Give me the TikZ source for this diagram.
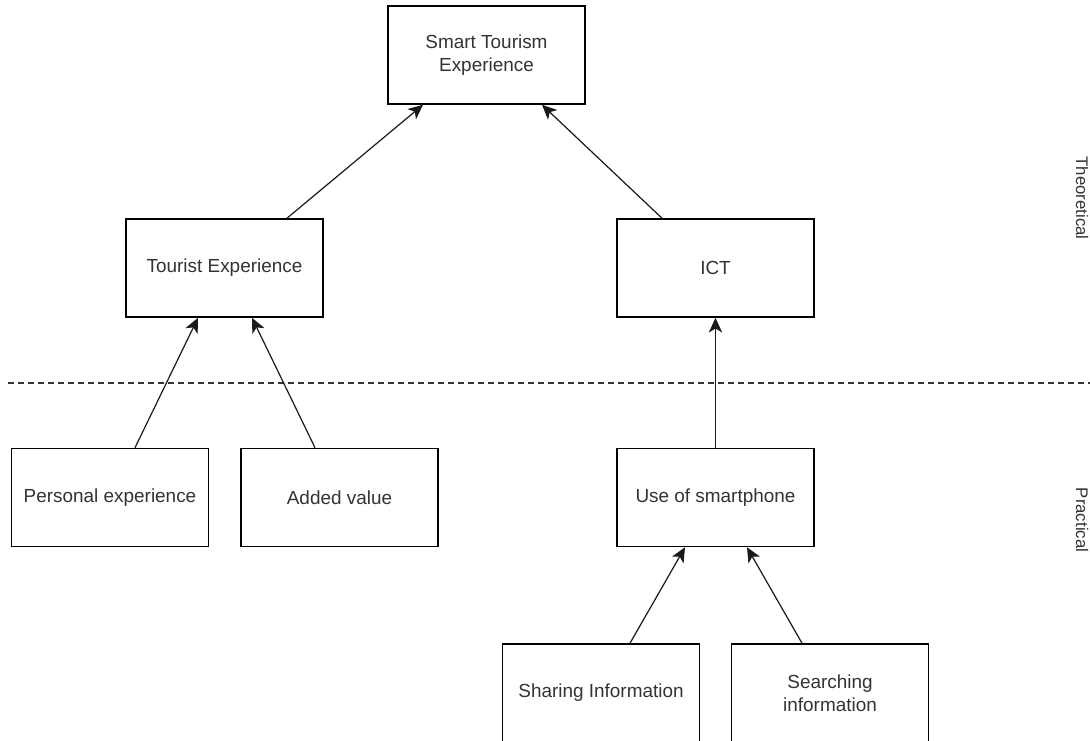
\documentclass[tikz,border=0pt]{standalone}
\usepackage{fontspec}
\setmainfont{Liberation Sans}
\usetikzlibrary{calc,arrows.meta}
\begin{document}
\begin{tikzpicture}[x=0.75pt,y=-0.75pt,
  box/.style={draw=black,line width=1.2pt,fill=white,minimum width=197*0.75pt,minimum height=98*0.75pt,
    inner sep=0pt,align=center,font=\fontsize{14.2}{17}\selectfont,text=black!80},
  conn/.style={draw=black!90,line width=0.9pt,-{Stealth[length=11pt,width=10pt,inset=3pt]}},
  side/.style={font=\fontsize{12.6}{15}\selectfont,text=black!80,rotate=-90,inner sep=0pt}]
\clip (0,0) rectangle (1090,740);
\fill[white] (0,0) rectangle (1090,740);
\coordinate (dl) at (8,383);
\coordinate (dr) at (1090,383);
\draw[black!80,line width=0.8pt,dash pattern=on 4.5pt off 3pt] (dl) -- (dr);
\node[box] (smart) at (486.5,55) {Smart Tourism\\Experience};
\node[box] (tourist) at (224.5,268) {Tourist Experience};
\node[box] (ict) at (715.5,268) {ICT};
\node[box] (personal) at (110,497.5) {Personal experience};
\node[box] (added) at (339.5,497.5) {Added value};
\node[box] (phone) at (715.5,497.5) {Use of smartphone};
\node[box] (sharing) at (601,693) {Sharing Information};
\node[box] (searching) at (830,693) {Searching\\information};
\node[side] (theo) at (1082,198) {Theoretical};
\node[side] (prac) at (1082,520) {Practical};
\draw[conn] ($(tourist.north)+(62.5,0)$) -- ($(smart.south)+(-63.5,0)$);
\draw[conn] ($(ict.north)+(-53.5,0)$) -- ($(smart.south)+(55.5,0)$);
\draw[conn] ($(personal.north)+(25,0)$) -- ($(tourist.south)+(-26.5,0)$);
\draw[conn] ($(added.north)+(-24.5,0)$) -- ($(tourist.south)+(27.5,0)$);
\draw[conn] (phone.north) -- (ict.south);
\draw[conn] ($(sharing.north)+(29,0)$) -- ($(phone.south)+(-30.5,0)$);
\draw[conn] ($(searching.north)+(-28,0)$) -- ($(phone.south)+(31.5,0)$);
\end{tikzpicture}
\end{document}
